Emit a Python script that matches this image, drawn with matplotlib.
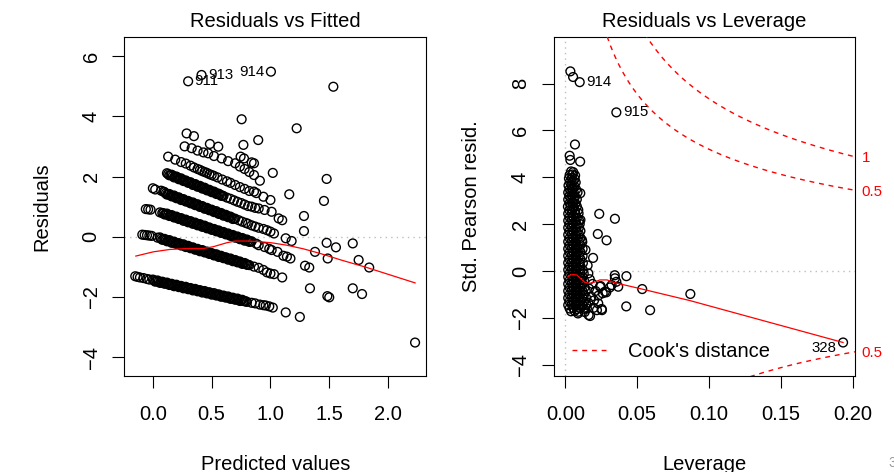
import numpy as np
import matplotlib
matplotlib.use("Agg")
import matplotlib.pyplot as plt
from matplotlib.lines import Line2D
from matplotlib import transforms

plt.rcParams['font.family'] = ['Liberation Sans', 'DejaVu Sans']

# ---- residuals vs fitted : bands of points, bottom to top
fit_b0 = [-0.15, -0.13, -0.11, -0.08, -0.05, -0.03,
          0.00, 0.02, 0.04, 0.06, 0.08, 0.10, 0.12, 0.14, 0.16, 0.18, 0.20,
          0.22, 0.24, 0.26, 0.28, 0.30, 0.32, 0.34, 0.36, 0.38, 0.40, 0.42,
          0.44, 0.46, 0.48, 0.50, 0.52, 0.54, 0.56, 0.58, 0.60, 0.62, 0.64,
          0.66, 0.68, 0.70, 0.72, 0.74, 0.76, 0.78, 0.80,
          0.84, 0.87, 0.91, 0.94, 0.96, 0.99, 1.02, 1.13, 1.25]
res_b0 = [-1.31, -1.33, -1.35, -1.37, -1.40, -1.42,
          -1.42, -1.49, -1.45, -1.53, -1.49, -1.56, -1.52, -1.60, -1.56, -1.64, -1.59,
          -1.67, -1.63, -1.71, -1.66, -1.74, -1.70, -1.78, -1.73, -1.81, -1.77, -1.85,
          -1.80, -1.88, -1.84, -1.92, -1.87, -1.95, -1.91, -1.99, -1.95, -2.02, -1.98,
          -2.06, -2.02, -2.09, -2.05, -2.13, -2.09, -2.14, -2.16,
          -2.19, -2.21, -2.25, -2.27, -2.28, -2.31, -2.35, -2.51, -2.66]
fit_b0b = [0.01, 0.03, 0.05, 0.07, 0.09, 0.11, 0.13, 0.15, 0.17, 0.19,
           0.21, 0.23, 0.25, 0.27, 0.29, 0.31, 0.33, 0.35, 0.37, 0.39,
           0.41, 0.43, 0.45, 0.47, 0.49, 0.51, 0.53, 0.55, 0.57, 0.59,
           0.61, 0.63, 0.65, 0.67, 0.69, 0.71, 0.73, 0.75, 0.77, 0.79]
res_b0b = [-1.45, -1.47, -1.49, -1.51, -1.52, -1.54, -1.56, -1.58, -1.60, -1.61,
           -1.63, -1.65, -1.67, -1.68, -1.70, -1.72, -1.74, -1.75, -1.77, -1.79,
           -1.81, -1.83, -1.84, -1.86, -1.88, -1.90, -1.91, -1.93, -1.95, -1.97,
           -1.98, -2.00, -2.02, -2.04, -2.06, -2.07, -2.09, -2.11, -2.13, -2.14]

fit_b1 = [-0.09, -0.07, -0.05, -0.03, -0.01, 0.04,
          0.06, 0.08, 0.10, 0.12, 0.14, 0.16, 0.18, 0.20, 0.22, 0.24, 0.26,
          0.28, 0.30, 0.32, 0.34, 0.36, 0.38, 0.40, 0.42, 0.44, 0.46, 0.48,
          0.50, 0.52, 0.54, 0.56, 0.58, 0.60, 0.62, 0.64, 0.66, 0.68, 0.70,
          0.72, 0.74, 0.76, 0.78, 0.80, 0.82,
          0.86, 0.90, 0.94, 0.97, 1.00, 1.03, 1.10]
res_b1 = [0.07, 0.06, 0.05, 0.04, 0.03, -0.03,
          -0.02, -0.10, -0.07, -0.15, -0.11, -0.20, -0.16, -0.24, -0.21, -0.29, -0.25,
          -0.34, -0.30, -0.38, -0.35, -0.43, -0.40, -0.48, -0.44, -0.52, -0.49, -0.57,
          -0.54, -0.62, -0.58, -0.67, -0.63, -0.71, -0.68, -0.76, -0.72, -0.81, -0.77,
          -0.85, -0.82, -0.90, -0.87, -0.93, -0.94,
          -0.99, -1.03, -1.10, -1.18, -1.22, -1.24, -1.35]
fit_b1b = [0.07, 0.09, 0.11, 0.13, 0.15, 0.17, 0.19, 0.21, 0.23, 0.25,
           0.27, 0.29, 0.31, 0.33, 0.35, 0.37, 0.39, 0.41, 0.43, 0.45,
           0.47, 0.49, 0.51, 0.53, 0.55, 0.57, 0.59, 0.61, 0.63, 0.65,
           0.67, 0.69, 0.71, 0.73, 0.75, 0.77, 0.79, 0.81]
res_b1b = [-0.06, -0.09, -0.11, -0.13, -0.16, -0.18, -0.20, -0.23, -0.25, -0.27,
           -0.30, -0.32, -0.34, -0.37, -0.39, -0.41, -0.44, -0.46, -0.48, -0.51,
           -0.53, -0.55, -0.58, -0.60, -0.62, -0.65, -0.67, -0.69, -0.72, -0.74,
           -0.76, -0.79, -0.81, -0.83, -0.86, -0.88, -0.90, -0.93]

fit_b2 = [-0.06, -0.04, -0.02, 0.06,
          0.08, 0.10, 0.12, 0.14, 0.16, 0.18, 0.20, 0.22, 0.24, 0.26, 0.28,
          0.30, 0.32, 0.34, 0.36, 0.38, 0.40, 0.42, 0.44, 0.46, 0.48, 0.50,
          0.52, 0.54, 0.56, 0.58, 0.60, 0.62, 0.64, 0.66, 0.68, 0.70, 0.72,
          0.74, 0.76, 0.78, 0.80, 0.82, 0.84,
          0.88, 0.90, 0.95, 0.99, 1.01, 1.06, 1.11, 1.14, 1.17]
res_b2 = [0.92, 0.91, 0.90, 0.81,
          0.79, 0.74, 0.77, 0.69, 0.72, 0.64, 0.67, 0.59, 0.62, 0.53, 0.57,
          0.48, 0.52, 0.43, 0.47, 0.38, 0.42, 0.33, 0.37, 0.28, 0.31, 0.23,
          0.26, 0.18, 0.21, 0.13, 0.16, 0.08, 0.11, 0.03, 0.06, -0.03, 0.01,
          -0.08, -0.04, -0.13, -0.09, -0.17, -0.15,
          -0.23, -0.28, -0.34, -0.40, -0.44, -0.50, -0.63, -0.66, -0.72]
fit_b2b = [0.09, 0.11, 0.13, 0.15, 0.17, 0.19, 0.21, 0.23, 0.25, 0.27,
           0.29, 0.31, 0.33, 0.35, 0.37, 0.39, 0.41, 0.43, 0.45, 0.47,
           0.49, 0.51, 0.53, 0.55, 0.57, 0.59, 0.61, 0.63, 0.65, 0.67,
           0.69, 0.71, 0.73, 0.75, 0.77, 0.79, 0.81, 0.83]
res_b2b = [0.78, 0.75, 0.73, 0.70, 0.68, 0.65, 0.63, 0.60, 0.58, 0.55,
           0.53, 0.50, 0.48, 0.45, 0.42, 0.40, 0.37, 0.35, 0.32, 0.30,
           0.27, 0.25, 0.22, 0.20, 0.17, 0.14, 0.12, 0.09, 0.07, 0.04,
           0.02, -0.01, -0.03, -0.06, -0.08, -0.11, -0.13, -0.16]

fit_b3 = [0.00, 0.02, 0.07, 0.09,
          0.10, 0.12, 0.14, 0.16, 0.18, 0.20, 0.22, 0.24, 0.26, 0.28, 0.30,
          0.32, 0.34, 0.36, 0.38, 0.40, 0.42, 0.44, 0.46, 0.48, 0.50, 0.52,
          0.54, 0.56, 0.58, 0.60, 0.62, 0.64, 0.66, 0.68, 0.70,
          0.73, 0.76, 0.79, 0.81, 0.84, 0.87, 0.90, 0.94, 0.97, 1.00, 1.03]
res_b3 = [1.61, 1.57, 1.53, 1.50,
          1.48, 1.40, 1.42, 1.34, 1.37, 1.28, 1.31, 1.22, 1.25, 1.17, 1.19,
          1.11, 1.14, 1.05, 1.08, 0.99, 1.02, 0.93, 0.96, 0.88, 0.90, 0.82,
          0.85, 0.76, 0.79, 0.70, 0.73, 0.65, 0.67, 0.59, 0.60,
          0.55, 0.50, 0.46, 0.43, 0.38, 0.34, 0.30, 0.26, 0.22, 0.17, 0.11]
fit_b3b = [0.11, 0.13, 0.15, 0.17, 0.19, 0.21, 0.23, 0.25, 0.27, 0.29,
           0.31, 0.33, 0.35, 0.37, 0.39, 0.41, 0.43, 0.45, 0.47, 0.49,
           0.51, 0.53, 0.55, 0.57, 0.59, 0.61, 0.63, 0.65, 0.67, 0.69]
res_b3b = [1.44, 1.41, 1.38, 1.35, 1.32, 1.29, 1.27, 1.24, 1.21, 1.18,
           1.15, 1.12, 1.09, 1.06, 1.04, 1.01, 0.98, 0.95, 0.92, 0.89,
           0.86, 0.83, 0.80, 0.77, 0.75, 0.72, 0.69, 0.66, 0.63, 0.60]

fit_b4 = [0.12, 0.14, 0.16, 0.18, 0.20, 0.22, 0.24, 0.26, 0.28, 0.30,
          0.32, 0.34, 0.36, 0.38, 0.40, 0.42, 0.44, 0.46, 0.48, 0.50,
          0.52, 0.54, 0.56, 0.58, 0.60,
          0.63, 0.66, 0.69, 0.72, 0.75, 0.78, 0.81, 0.84, 0.87, 0.90,
          0.95, 1.01, 1.07, 1.10]
res_b4 = [2.11, 2.04, 2.06, 1.97, 2.00, 1.91, 1.94, 1.85, 1.87, 1.79,
          1.81, 1.72, 1.75, 1.66, 1.69, 1.60, 1.63, 1.54, 1.56, 1.48,
          1.50, 1.42, 1.43, 1.36, 1.35,
          1.30, 1.26, 1.21, 1.16, 1.12, 1.07, 1.02, 1.00, 0.96, 0.94,
          0.89, 0.83, 0.61, 0.55]
fit_b4b = [0.13, 0.15, 0.17, 0.19, 0.21, 0.23, 0.25, 0.27, 0.29, 0.31,
           0.33, 0.35, 0.37, 0.39, 0.41, 0.43, 0.45, 0.47, 0.49, 0.51,
           0.53, 0.55, 0.57, 0.59]
res_b4b = [2.08, 2.05, 2.02, 1.99, 1.96, 1.92, 1.89, 1.86, 1.83, 1.80,
           1.77, 1.74, 1.71, 1.68, 1.65, 1.61, 1.58, 1.55, 1.52, 1.49,
           1.46, 1.43, 1.40, 1.37]

fit_b5 = [0.13, 0.19, 0.24, 0.28, 0.32, 0.35, 0.38, 0.40, 0.42, 0.44,
          0.46, 0.48, 0.50, 0.52, 0.55, 0.59, 0.63, 0.66, 0.70, 0.74,
          0.78, 0.82, 0.86, 0.88, 0.94, 1.00]
res_b5 = [2.66, 2.56, 2.48, 2.43, 2.36, 2.30, 2.25, 2.22, 2.18, 2.15,
          2.12, 2.08, 2.05, 2.02, 1.97, 1.90, 1.84, 1.79, 1.72, 1.65,
          1.59, 1.52, 1.50, 1.45, 1.33, 1.22]

fit_b6 = [0.27, 0.33, 0.38, 0.43, 0.47, 0.52, 0.585, 0.64, 0.70, 0.74,
          0.78, 0.82, 0.86, 0.91]
res_b6 = [3.00, 2.94, 2.86, 2.80, 2.77, 2.68, 2.60, 2.51, 2.44, 2.33,
          2.25, 2.15, 2.05, 1.86]

fit_b7 = [0.287, 0.349, 0.485, 0.556, 0.746, 0.775, 0.84, 0.86]
res_b7 = [3.43, 3.34, 3.08, 2.99, 2.66, 2.60, 2.47, 2.44]

fit_out = [0.30, 0.414, 1.004, 1.535, 0.755, 1.223, 0.77, 0.896, 1.02, 1.16,
           1.478, 1.455, 1.285, 1.285, 1.13, 1.18, 1.478, 1.557, 1.70, 1.379,
           1.487, 1.75, 1.84, 1.294, 1.33, 1.336, 1.484, 1.50, 1.70, 1.779, 2.23]
res_out = [5.16, 5.37, 5.48, 4.98, 3.90, 3.60, 3.05, 3.21, 2.12, 1.41,
           1.92, 1.19, 0.69, 0.19, -0.05, -0.14, -0.20, -0.35, -0.22, -0.50,
           -0.72, -0.77, -1.02, -0.96, -1.02, -1.71, -1.97, -2.01, -1.71, -1.90, -3.51]

# smoother (red)
lo_fit = [-0.145, 0.003, 0.145, 0.287, 0.428, 0.513, 0.627, 0.70, 0.80, 0.90,
          1.01, 1.14, 1.28, 1.42, 1.60, 1.82, 2.23]
lo_res = [-0.64, -0.50, -0.42, -0.39, -0.39, -0.33, -0.20, -0.14, -0.14, -0.16,
          -0.20, -0.28, -0.40, -0.55, -0.77, -1.02, -1.53]

id1_fit = [0.30, 0.414, 1.004]
id1_res = [5.16, 5.37, 5.48]
id1_txt = ["911", "913", "914"]
id1_side = [1, 1, -1]

# ---- residuals vs leverage
lev_top = [0.0040, 0.0055,
           0.0030, 0.0050, 0.0068,
           0.0025, 0.0045, 0.0065,
           0.0032, 0.0052, 0.0072,
           0.0022, 0.0042, 0.0062,
           0.0030, 0.0050, 0.0075,
           0.0020, 0.0040, 0.0060, 0.0085,
           0.0028, 0.0048, 0.0068,
           0.0020, 0.0040, 0.0060, 0.0080,
           0.0030, 0.0050, 0.0070,
           0.0018, 0.0038, 0.0058, 0.0080,
           0.0028, 0.0048, 0.0068, 0.0090]
std_top = [4.25, 4.22,
           4.10, 4.12, 4.08,
           3.95, 3.97, 3.93,
           3.80, 3.82, 3.78,
           3.65, 3.67, 3.63,
           3.50, 3.52, 3.48,
           3.35, 3.37, 3.33, 3.36,
           3.20, 3.22, 3.18,
           3.05, 3.07, 3.03, 3.06,
           2.90, 2.92, 2.88,
           2.75, 2.77, 2.73, 2.76,
           2.60, 2.62, 2.58, 2.61]

lev_mid = [0.0020, 0.0045, 0.0070, 0.0092,
           0.0030, 0.0055, 0.0080,
           0.0020, 0.0045, 0.0070, 0.0095,
           0.0030, 0.0055, 0.0080, 0.0100,
           0.0020, 0.0045, 0.0070, 0.0095,
           0.0030, 0.0055, 0.0080, 0.0105,
           0.0020, 0.0045, 0.0070, 0.0095,
           0.0030, 0.0055, 0.0080, 0.0105,
           0.0020, 0.0045, 0.0070, 0.0095, 0.0118,
           0.0030, 0.0055, 0.0080, 0.0105,
           0.0020, 0.0045, 0.0070, 0.0095, 0.0120,
           0.0030, 0.0055, 0.0080, 0.0105,
           0.0020, 0.0045, 0.0070, 0.0095, 0.0120,
           0.0030, 0.0055, 0.0080, 0.0105,
           0.0020, 0.0045, 0.0070, 0.0095, 0.0122,
           0.0030, 0.0055, 0.0080, 0.0105,
           0.0020, 0.0045, 0.0070, 0.0095, 0.0122,
           0.0030, 0.0055, 0.0080, 0.0105, 0.0128,
           0.0020, 0.0045, 0.0070, 0.0095, 0.0120,
           0.0030, 0.0055, 0.0080, 0.0105, 0.0130]
std_mid = [2.45, 2.47, 2.43, 2.46,
           2.30, 2.32, 2.28,
           2.15, 2.17, 2.13, 2.16,
           2.00, 2.02, 1.98, 2.01,
           1.85, 1.87, 1.83, 1.86,
           1.70, 1.72, 1.68, 1.71,
           1.55, 1.57, 1.53, 1.56,
           1.40, 1.42, 1.38, 1.41,
           1.25, 1.27, 1.23, 1.26, 1.24,
           1.10, 1.12, 1.08, 1.11,
           0.95, 0.97, 0.93, 0.96, 0.94,
           0.80, 0.82, 0.78, 0.81,
           0.65, 0.67, 0.63, 0.66, 0.64,
           0.50, 0.52, 0.48, 0.51,
           0.35, 0.37, 0.33, 0.36, 0.34,
           0.20, 0.22, 0.18, 0.21,
           0.05, 0.07, 0.03, 0.06, 0.04,
           -0.10, -0.08, -0.12, -0.09, -0.11,
           -0.25, -0.23, -0.27, -0.24, -0.26,
           -0.40, -0.38, -0.42, -0.39, -0.41]

lev_low = [0.0020, 0.0045, 0.0070, 0.0095, 0.0120,
           0.0030, 0.0055, 0.0080, 0.0105, 0.0132,
           0.0020, 0.0045, 0.0070, 0.0095, 0.0120, 0.0142,
           0.0030, 0.0055, 0.0080, 0.0105, 0.0130,
           0.0020, 0.0045, 0.0070, 0.0095, 0.0120, 0.0145,
           0.0030, 0.0055, 0.0080, 0.0105, 0.0130,
           0.0020, 0.0045, 0.0070, 0.0095, 0.0120,
           0.0030, 0.0055, 0.0080, 0.0105, 0.0130,
           0.0040, 0.0065, 0.0090]
std_low = [-0.55, -0.53, -0.57, -0.54, -0.56,
           -0.70, -0.68, -0.72, -0.69, -0.71,
           -0.85, -0.83, -0.87, -0.84, -0.86, -0.85,
           -1.00, -0.98, -1.02, -0.99, -1.01,
           -1.15, -1.13, -1.17, -1.14, -1.16, -1.15,
           -1.30, -1.28, -1.32, -1.29, -1.31,
           -1.45, -1.43, -1.47, -1.44, -1.46,
           -1.60, -1.58, -1.62, -1.59, -1.61,
           -1.72, -1.70, -1.74]

lev_out = [0.0035, 0.0054, 0.0100, 0.0355, 0.0067, 0.0030, 0.0035, 0.0103, 0.0104, 0.0105,
           0.0116, 0.0236, 0.0345, 0.0226, 0.0287, 0.0193, 0.0155, 0.0160, 0.0344, 0.0345,
           0.0355, 0.0425, 0.0368, 0.0245, 0.0310, 0.0285, 0.0535, 0.0870, 0.0424, 0.0590,
           0.1933, 0.0197, 0.0220, 0.0255, 0.0162, 0.0088, 0.0146, 0.0229, 0.0253, 0.0172,
           0.0276, 0.0322, 0.0241, 0.0140, 0.0170, 0.0190, 0.0210, 0.0180, 0.0200, 0.0160,
           0.0230, 0.0260, 0.0165, 0.0150, 0.0135]
std_out = [8.52, 8.28, 8.06, 6.77, 5.40, 4.92, 4.74, 4.67, 3.32, 2.18,
           1.32, 2.44, 2.23, 1.58, 1.31, 0.56, 0.24, -0.10, -0.18, -0.31,
           -0.46, -0.22, -0.67, -0.64, -0.70, -0.91, -0.77, -0.98, -1.51, -1.67,
           -3.05, -1.57, -1.67, -1.67, -1.88, -1.81, -1.45, -1.38, -1.62, -1.92,
           -0.88, -0.60, -0.67, 0.90, -0.35, -0.55, -0.85, -1.10, -1.25, -1.35,
           -1.05, -0.95, -0.75, -1.60, -1.75]

lo_lev = [0.0018, 0.0035, 0.0055, 0.0080, 0.0102, 0.0135, 0.0170, 0.0205, 0.0240,
          0.0290, 0.0345, 0.0520, 0.0866, 0.1933]
lo_std = [-0.25, -0.17, -0.15, -0.17, -0.30, -0.48, -0.53, -0.47, -0.38,
          -0.38, -0.50, -0.75, -1.26, -3.05]

id2_lev = [0.0100, 0.0355, 0.1933]
id2_std = [8.06, 6.77, -3.05]
id2_txt = ["914", "915", "328"]
id2_side = [1, 1, -1]

# cook's distance contours
n_params = 6
cook_levels = [0.5, 1.0]

fit_ticks = [0.0, 0.5, 1.0, 1.5, 2.0]
fit_ticklabels = ["0.0", "0.5", "1.0", "1.5", "2.0"]
res_ticks = [-4, -2, 0, 2, 4, 6]
lev_ticks = [0.0, 0.05, 0.10, 0.15, 0.20]
lev_ticklabels = ["0.00", "0.05", "0.10", "0.15", "0.20"]
std_ticks = [-4, -2, 0, 2, 4, 6, 8]

# ---- graphique
W, H = 894, 472
fig = plt.figure(figsize=(W / 100, H / 100), dpi=100)
ax1 = fig.add_axes([124.3 / W, 1 - 376 / H, (426 - 124.3) / W, (376 - 36.7) / H])
ax2 = fig.add_axes([553.7 / W, 1 - 376 / H, (855 - 553.7) / W, (376 - 36.7) / H])

fs = 14.5
fs_small = 10.8
red = '#ff0000'
grey = '#bebebe'
ring = dict(s=40, facecolors='none', edgecolors='black', linewidths=1.0)

fit_all = (fit_b0 + fit_b0b + fit_b1 + fit_b1b + fit_b2 + fit_b2b + fit_b3 + fit_b3b
           + fit_b4 + fit_b4b + fit_b5 + fit_b6 + fit_b7 + fit_out)
res_all = (res_b0 + res_b0b + res_b1 + res_b1b + res_b2 + res_b2b + res_b3 + res_b3b
           + res_b4 + res_b4b + res_b5 + res_b6 + res_b7 + res_out)

ax1.axhline(0, color=grey, lw=1, ls=(0, (1, 3)), zorder=1)
ax1.scatter(fit_all, res_all, zorder=2, **ring)
ax1.plot(lo_fit, lo_res, color=red, lw=0.9, zorder=3)
ax1.set_xlim(-0.243, 2.323)
ax1.set_ylim(-4.62, 6.64)
ax1.set_xticks(fit_ticks)
ax1.set_xticklabels(fit_ticklabels)
ax1.set_yticks(res_ticks)
ax1.set_yticklabels([str(v).replace('-', '\u2212') for v in res_ticks], rotation=90, va='center')
for x, y, t, s in zip(id1_fit, id1_res, id1_txt, id1_side):
    ax1.annotate(t, (x, y), xytext=(6.5 * s, 1.5), textcoords='offset pixels',
                 ha='left' if s > 0 else 'right', va='center_baseline', fontsize=fs_small)

lev_all = lev_top + lev_mid + lev_low + lev_out
std_all = std_top + std_mid + std_low + std_out

ax2.axhline(0, color=grey, lw=1, ls=(0, (1, 3)), zorder=1)
ax2.axvline(0, color=grey, lw=1, ls=(0, (1, 3)), zorder=1)
ax2.scatter(lev_all, std_all, zorder=2, **ring)
ax2.plot(lo_lev, lo_std, color=red, lw=0.9, zorder=3)
ax2.set_xlim(-0.0081, 0.2016)
ax2.set_ylim(-4.48, 10.0)
hh = np.linspace(0.001, 0.2016, 400)
trans = transforms.blended_transform_factory(ax2.transAxes, ax2.transData)
for lvl in cook_levels:
    cl = np.sqrt(lvl * n_params * (1 - hh) / hh)
    ax2.plot(hh, cl, color=red, lw=1, ls=(0, (3.5, 3.5)), zorder=3)
    ax2.plot(hh, -cl, color=red, lw=1, ls=(0, (3.5, 3.5)), zorder=3)
    aty = np.sqrt(lvl * n_params * (1 - 0.2016) / 0.2016)
    for yy in (aty, -aty):
        if -4.48 < yy < 10.0:
            ax2.text(1.022, yy, f"{lvl:g}", transform=trans, color=red, fontsize=fs_small,
                     ha='left', va='center_baseline', clip_on=False)
ax2.set_xticks(lev_ticks)
ax2.set_xticklabels(lev_ticklabels)
ax2.set_yticks(std_ticks)
ax2.set_yticklabels([str(v).replace('-', '\u2212') for v in std_ticks], rotation=90, va='center')
for x, y, t, s in zip(id2_lev, id2_std, id2_txt, id2_side):
    ax2.annotate(t, (x, y), xytext=(6.5 * s, 1.5 if s > 0 else -4.5), textcoords='offset pixels',
                 ha='left' if s > 0 else 'right', va='center_baseline', fontsize=fs_small)

h = Line2D([], [], color=red, lw=1, ls=(0, (3.5, 3.5)))
ax2.legend([h], ["Cook's distance"], loc='center left', bbox_to_anchor=(0.0607, 0.0716),
           frameon=False, fontsize=fs, handlelength=1.73, handletextpad=1.07,
           borderpad=0, borderaxespad=0)

for ax in (ax1, ax2):
    ax.tick_params(direction='out', length=8.6, width=0.8, labelsize=fs)
    ax.tick_params(axis='x', pad=12)
    ax.tick_params(axis='y', pad=8.5)
    for sp in ax.spines.values():
        sp.set_linewidth(0.8)

# titres et axes
fig.text(275 / W, 1 - 26.7 / H, "Residuals vs Fitted", ha='center', va='baseline', fontsize=fs)
fig.text(704.5 / W, 1 - 26.7 / H, "Residuals vs Leverage", ha='center', va='baseline', fontsize=fs)
fig.text(275.5 / W, 1 - 469.5 / H, "Predicted values", ha='center', va='baseline', fontsize=fs)
fig.text(704.5 / W, 1 - 469.5 / H, "Leverage", ha='center', va='baseline', fontsize=fs)
fig.text(47.5 / W, 1 - 206.5 / H, "Residuals", rotation=90, rotation_mode='anchor',
         ha='center', va='baseline', fontsize=fs)
fig.text(476.5 / W, 1 - 206.5 / H, "Std. Pearson resid.", rotation=90, rotation_mode='anchor',
         ha='center', va='baseline', fontsize=fs)
fig.text(888.5 / W, 1 - 467 / H, "3", color='#9a9a9a', fontsize=10, ha='left', va='baseline')

fig.savefig("out.png", dpi=100)
